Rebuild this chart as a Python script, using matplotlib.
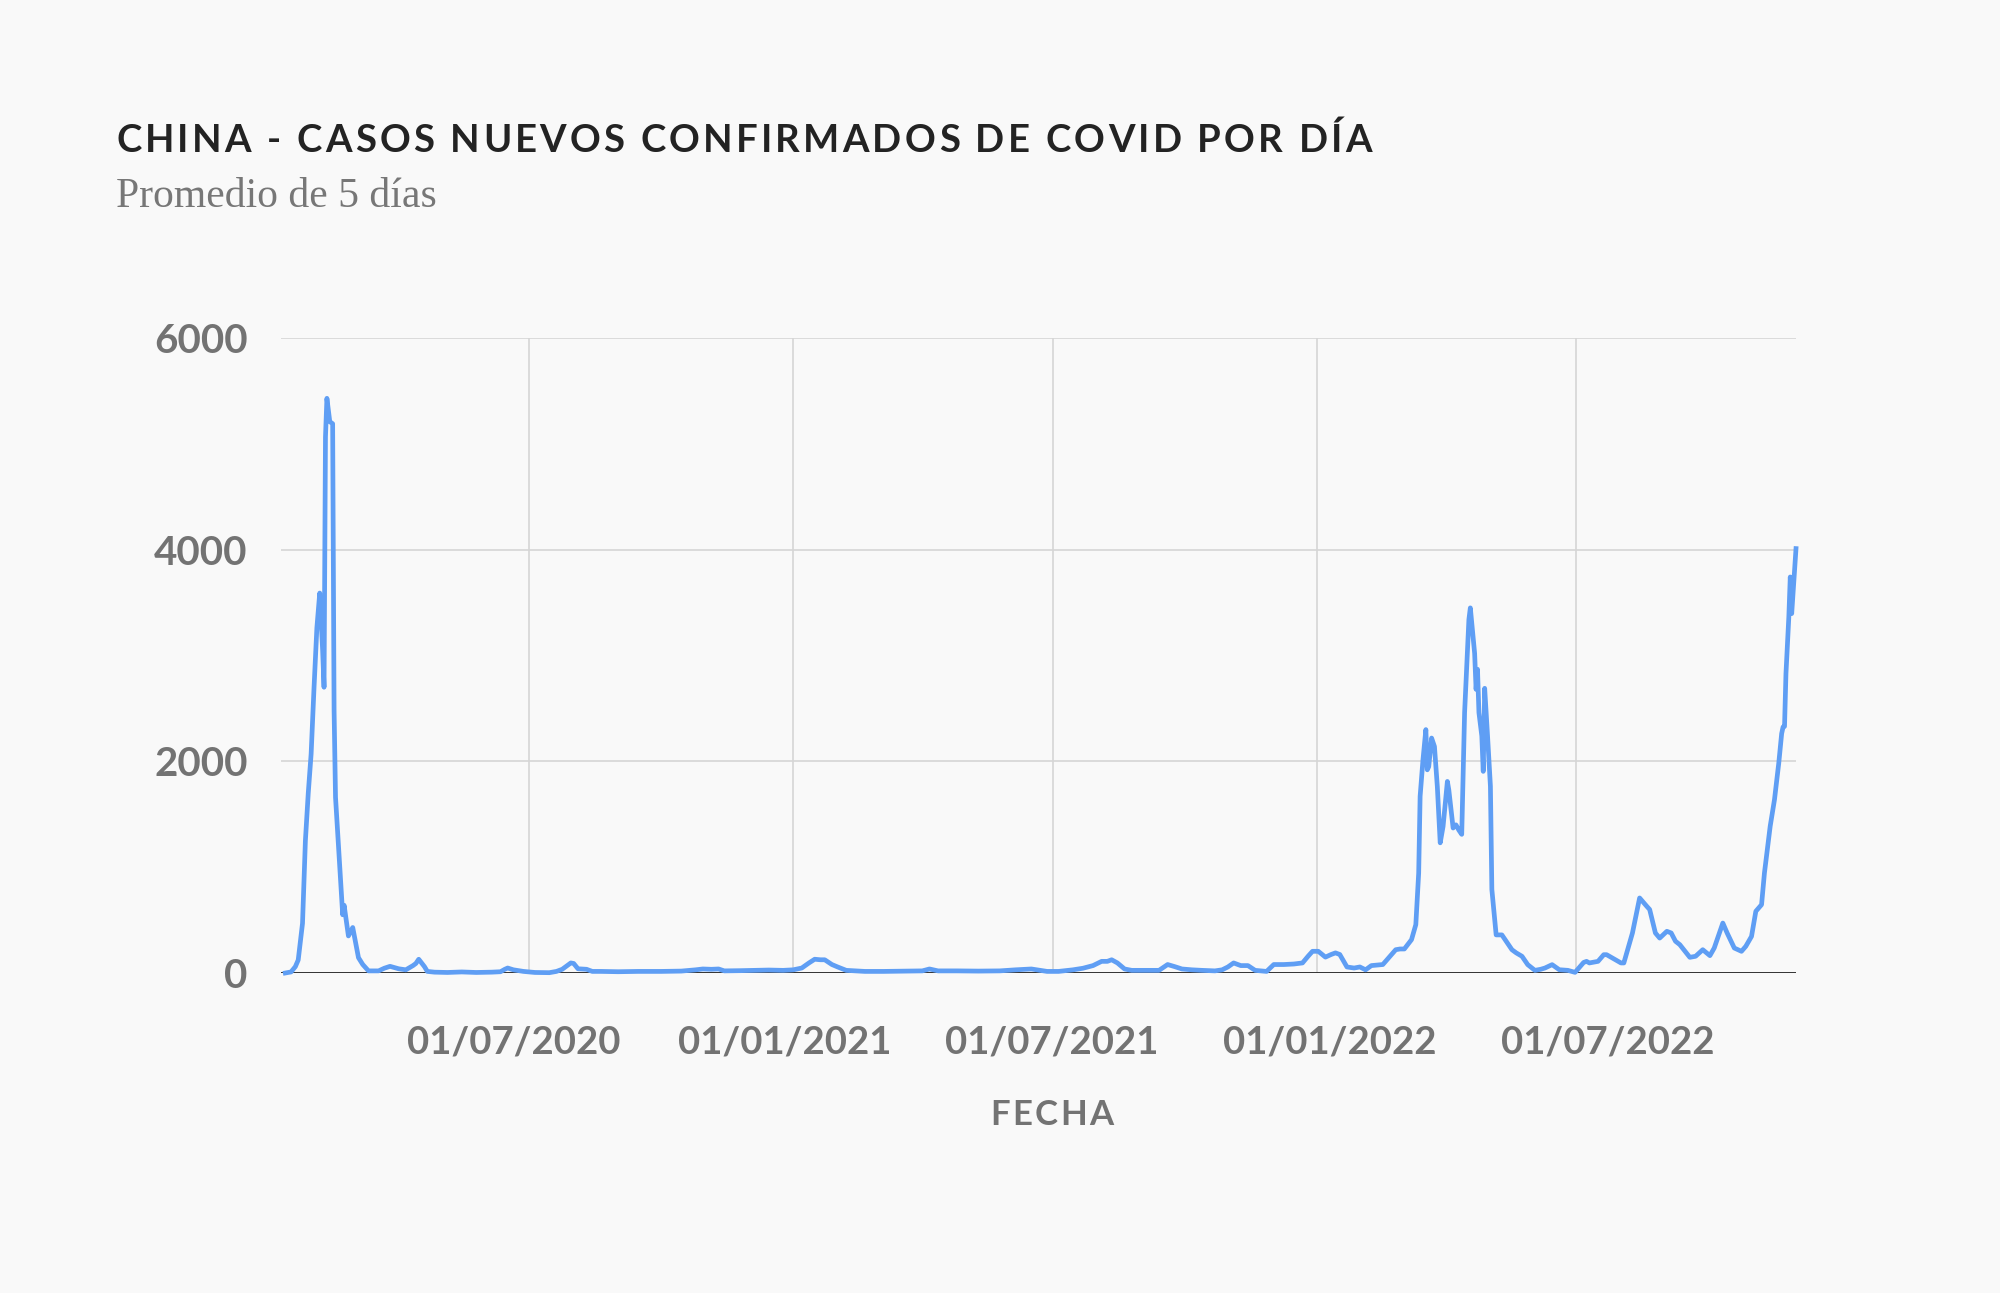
import numpy as np
import pandas as pd
import matplotlib
matplotlib.use('Agg')
import matplotlib.pyplot as plt
import matplotlib.dates as mdates

# Datos (promedio de 5 días)
fechas = [
    '2020-01-13', '2020-01-17', '2020-01-20', '2020-01-22', '2020-01-25', '2020-01-27',
    '2020-01-29', '2020-01-31', '2020-02-02', '2020-02-04', '2020-02-06', '2020-02-08',
    '2020-02-09', '2020-02-10', '2020-02-11', '2020-02-13', '2020-02-15', '2020-02-16',
    '2020-02-17', '2020-02-21', '2020-02-22', '2020-02-23', '2020-02-26', '2020-02-29',
    '2020-03-04', '2020-03-07', '2020-03-11', '2020-03-18', '2020-03-22', '2020-03-26',
    '2020-04-01', '2020-04-06', '2020-04-11', '2020-04-13', '2020-04-15', '2020-04-17',
    '2020-04-19', '2020-04-21', '2020-04-26', '2020-05-05', '2020-05-15', '2020-05-25',
    '2020-06-05', '2020-06-11', '2020-06-14', '2020-06-16', '2020-06-20', '2020-06-27',
    '2020-07-05', '2020-07-15', '2020-07-20', '2020-07-24', '2020-07-30', '2020-08-01',
    '2020-08-04', '2020-08-10', '2020-08-14', '2020-08-20', '2020-09-01', '2020-09-15',
    '2020-10-01', '2020-10-15', '2020-10-25', '2020-10-30', '2020-11-05', '2020-11-10',
    '2020-11-14', '2020-11-25', '2020-12-05', '2020-12-15', '2020-12-25',
    '2021-01-01', '2021-01-07', '2021-01-12', '2021-01-16', '2021-01-20', '2021-01-23',
    '2021-01-28', '2021-02-01', '2021-02-07', '2021-02-20', '2021-03-05', '2021-03-20',
    '2021-04-01', '2021-04-06', '2021-04-12', '2021-04-25', '2021-05-10', '2021-05-25',
    '2021-06-05', '2021-06-16', '2021-06-27', '2021-07-05', '2021-07-15', '2021-07-22',
    '2021-07-29', '2021-08-04', '2021-08-08', '2021-08-11', '2021-08-15', '2021-08-20',
    '2021-08-25', '2021-09-05', '2021-09-13', '2021-09-19', '2021-09-24', '2021-09-29',
    '2021-10-06', '2021-10-13', '2021-10-22', '2021-10-27', '2021-10-31', '2021-11-04',
    '2021-11-09', '2021-11-14', '2021-11-19', '2021-11-27', '2021-12-02', '2021-12-09',
    '2021-12-16', '2021-12-22', '2021-12-26', '2021-12-29',
    '2022-01-02', '2022-01-07', '2022-01-11', '2022-01-14', '2022-01-17', '2022-01-22',
    '2022-01-27', '2022-01-31', '2022-02-04', '2022-02-08', '2022-02-12', '2022-02-16',
    '2022-02-22', '2022-02-25', '2022-02-28', '2022-03-03', '2022-03-08', '2022-03-11',
    '2022-03-13', '2022-03-14', '2022-03-16', '2022-03-18', '2022-03-19', '2022-03-20',
    '2022-03-22', '2022-03-24', '2022-03-26', '2022-03-28', '2022-03-30', '2022-04-02',
    '2022-04-03', '2022-04-06', '2022-04-08', '2022-04-10', '2022-04-12', '2022-04-14',
    '2022-04-17', '2022-04-18', '2022-04-21', '2022-04-22', '2022-04-23', '2022-04-24',
    '2022-04-26', '2022-04-27', '2022-04-28', '2022-04-30', '2022-05-02', '2022-05-03',
    '2022-05-06', '2022-05-10', '2022-05-13', '2022-05-17', '2022-05-20', '2022-05-24',
    '2022-05-28', '2022-06-02', '2022-06-06', '2022-06-09', '2022-06-14', '2022-06-19',
    '2022-06-25', '2022-06-30', '2022-07-06', '2022-07-08', '2022-07-10', '2022-07-16',
    '2022-07-20', '2022-07-22', '2022-07-28', '2022-08-01', '2022-08-03', '2022-08-09',
    '2022-08-14', '2022-08-16', '2022-08-19', '2022-08-21', '2022-08-25', '2022-08-28',
    '2022-09-02', '2022-09-05', '2022-09-08', '2022-09-11', '2022-09-18', '2022-09-22',
    '2022-09-27', '2022-10-02', '2022-10-05', '2022-10-11', '2022-10-14', '2022-10-19',
    '2022-10-24', '2022-10-27', '2022-10-31', '2022-11-03', '2022-11-07', '2022-11-09',
    '2022-11-13', '2022-11-16', '2022-11-19', '2022-11-21', '2022-11-22', '2022-11-23',
    '2022-11-24', '2022-11-26', '2022-11-27', '2022-11-28', '2022-12-01',
]
casos = [
    0, 10, 60, 123, 470, 1250,
    1700, 2070, 2690, 3260, 3590, 3055,
    2700, 5065, 5430, 5210, 5190, 2480,
    1660, 760, 550, 640, 350, 430,
    145, 80, 20, 20, 45, 63,
    40, 30, 70, 90, 130, 95,
    60, 15, 8, 5, 10, 5,
    8, 12, 35, 47, 30, 15,
    5, 3, 15, 35, 95, 90,
    40, 35, 15, 15, 12, 15,
    15, 18, 30, 38, 35, 38,
    20, 22, 25, 28, 25,
    30, 47, 95, 130, 125, 125,
    80, 57, 25, 15, 15, 18,
    20, 38, 20, 20, 18, 20,
    30, 38, 15, 15, 30, 45,
    70, 110, 110, 125, 95, 38,
    25, 25, 25, 80, 60, 38,
    30, 25, 20, 30, 57, 95,
    70, 70, 25, 15, 80, 80,
    85, 95, 160, 205,
    205, 150, 175, 190, 175, 57,
    47, 57, 30, 70, 75, 80,
    173, 220, 227, 227, 315, 457,
    945, 1670, 2016, 2300, 1920, 1950,
    2220, 2140, 1760, 1230, 1385, 1810,
    1730, 1370, 1400, 1350, 1310, 2460,
    3340, 3450, 3020, 2680, 2870, 2460,
    2240, 1905, 2690, 2240, 1765, 790,
    360, 360, 300, 220, 190, 158,
    79, 25, 35, 47, 79, 31,
    25, 6, 100, 110, 95, 110,
    173, 173, 126, 95, 95, 378,
    709, 677, 630, 600, 378, 330,
    394, 378, 300, 268, 148, 158,
    220, 164, 236, 472, 378, 236,
    205, 252, 346, 583, 646, 945,
    1386, 1638, 1985, 2262, 2325, 2330,
    2829, 3364, 3742, 3396, 4010,
]

grid_fechas = ['2020-07-01', '2021-01-01', '2021-07-01', '2022-01-01', '2022-07-01']
etiquetas_x = ['01/07/2020', '01/01/2021', '01/07/2021', '01/01/2022', '01/07/2022']
ticks_y = [0, 2000, 4000, 6000]

titulo = 'CHINA - CASOS NUEVOS CONFIRMADOS DE COVID POR DÍA'
subtitulo = 'Promedio de 5 días'
etiqueta_eje = 'FECHA'

# desplazamiento de las etiquetas respecto a la rejilla (en días), solo estética
desplaz_etiquetas = [-10.5, -6, -0.7, 9, 21.6]

W, H = 2000, 1293
fondo = '#f9f9f9'
gris = '#737373'

fig = plt.figure(figsize=(W / 100, H / 100), dpi=100, facecolor=fondo)
ax = fig.add_axes([281 / W, 1 - 973 / H, (1796 - 281) / W, (973 - 338) / H])
ax.set_facecolor(fondo)

x = pd.to_datetime(fechas)
ax.plot(x, casos, color='#5f9ef4', lw=3.4, zorder=3, solid_joinstyle='round', clip_on=False)

ax.set_xlim(pd.Timestamp('2020-01-10'), pd.Timestamp('2022-12-01'))
ax.set_ylim(0, 6000)

for g in grid_fechas:
    ax.axvline(pd.Timestamp(g), color='#d6d6d6', lw=1.2, zorder=1)
for t in ticks_y[1:]:
    ax.axhline(t, color='#d6d6d6', lw=1.2, zorder=1)
ax.axhline(0, color='#333333', lw=1.4, zorder=2)

for s in ax.spines.values():
    s.set_visible(False)

pos_etiquetas = [pd.Timestamp(g) + pd.Timedelta(days=d) for g, d in zip(grid_fechas, desplaz_etiquetas)]
ax.set_xticks(pos_etiquetas)
ax.set_xticklabels(etiquetas_x)
ax.set_yticks(ticks_y)
ax.set_yticklabels([str(t) for t in ticks_y])
ax.tick_params(axis='both', length=0, colors=gris)
ax.tick_params(axis='x', pad=38)
ax.tick_params(axis='y', pad=24)
for lab in ax.get_xticklabels():
    lab.set_fontfamily('Lato')
    lab.set_fontweight('bold')
    lab.set_fontsize(27.5)
for lab in ax.get_yticklabels():
    lab.set_fontfamily('Lato')
    lab.set_fontweight('bold')
    lab.set_fontsize(29)

renderer = fig.canvas.get_renderer()


def texto_espaciado(s, x_px, y_px, espacio, ha='left', **kw):
    # dibuja letra por letra para imitar el espaciado del original
    anchos = []
    for ch in s:
        if ch == ' ':
            t = fig.text(0, 0, 'a a', **kw)
            t2 = fig.text(0, 0, 'aa', **kw)
            anchos.append(t.get_window_extent(renderer).width - t2.get_window_extent(renderer).width)
            t.remove()
            t2.remove()
        else:
            t = fig.text(0, 0, ch, **kw)
            anchos.append(t.get_window_extent(renderer).width)
            t.remove()
    total = sum(anchos) + espacio * (len(s) - 1)
    if ha == 'center':
        x_px = x_px - total / 2
    for ch, w in zip(s, anchos):
        if ch != ' ':
            fig.text(x_px / W, 1 - y_px / H, ch, ha='left', va='baseline', **kw)
        x_px += w + espacio


texto_espaciado(titulo, 116, 152, 3.2, family='Lato', weight='bold', size=27.5, color='#232323')
fig.text(116 / W, 1 - 207 / H, subtitulo, ha='left', va='baseline',
         family='Liberation Serif', size=30, color='#777777')
texto_espaciado(etiqueta_eje, 1052, 1125, 2.5, ha='center', family='Lato', weight='bold', size=25, color=gris)

fig.savefig('out.png', dpi=100, facecolor=fondo)
